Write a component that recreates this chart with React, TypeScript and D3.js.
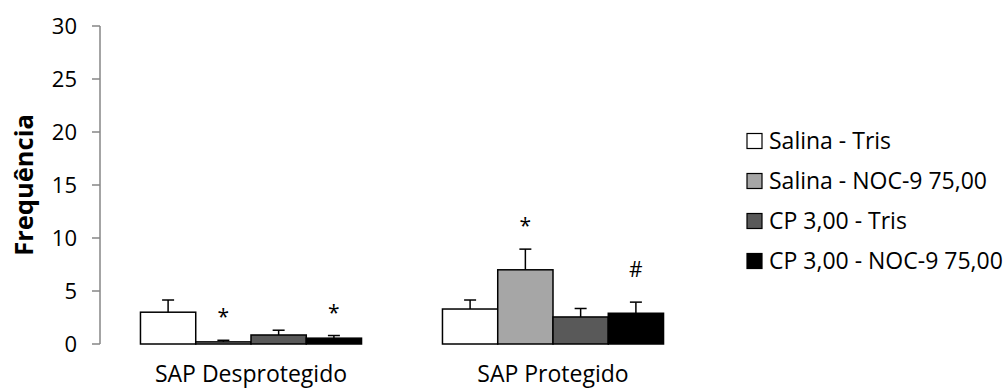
import React from "react";
import * as d3 from "d3";

const categories = ["SAP Desprotegido", "SAP Protegido"];
const seriesNames = [
  "Salina - Tris",
  "Salina - NOC-9 75,00",
  "CP 3,00 - Tris",
  "CP 3,00 - NOC-9 75,00",
];
const seriesColors = ["#ffffff", "#a6a6a6", "#595959", "#000000"];

// means per category, one array per series
const salinaTris = [3.0, 3.3];
const salinaNoc = [0.2, 7.0];
const cpTris = [0.85, 2.55];
const cpNoc = [0.55, 2.9];

// standard errors (upper bars only)
const salinaTrisErr = [1.15, 0.85];
const salinaNocErr = [0.15, 1.95];
const cpTrisErr = [0.45, 0.8];
const cpNocErr = [0.25, 1.05];

// significance marks: [category index, series index, symbol]
const marks: [number, number, string][] = [
  [0, 1, "*"],
  [0, 3, "*"],
  [1, 1, "*"],
  [1, 3, "#"],
];

const yTicks = [0, 5, 10, 15, 20, 25, 30];

const W = 1008;
const H = 389;
const FONT = "'Open Sans', 'DejaVu Sans', sans-serif";

export default function App() {
  const values = [salinaTris, salinaNoc, cpTris, cpNoc];
  const errors = [salinaTrisErr, salinaNocErr, cpTrisErr, cpNocErr];

  const x0 = d3
    .scaleBand<string>()
    .domain(categories)
    .range([100, 704])
    .paddingInner(0.268)
    .paddingOuter(0.134);
  const x1 = d3
    .scaleBand<string>()
    .domain(seriesNames)
    .range([0, x0.bandwidth()])
    .padding(0);
  const y = d3.scaleLinear().domain([0, 30]).range([344, 26]);

  const capHalf = 6;

  return (
    <svg
      width={W}
      height={H}
      style={{ position: "absolute", left: 0, top: 0, background: "#fff" }}
      fontFamily={FONT}
    >
      {/* y axis */}
      <line x1={100} x2={100} y1={y(0)} y2={y(30)} stroke="#868686" strokeWidth={1.5} />
      {yTicks.map((t) => (
        <g key={t}>
          <line x1={92} x2={100} y1={y(t)} y2={y(t)} stroke="#868686" strokeWidth={1.5} />
          <text
            x={77}
            y={y(t)}
            dy="0.36em"
            textAnchor="end"
            fontSize={22}
            fill="#000"
          >
            {t}
          </text>
        </g>
      ))}
      <text
        transform={`translate(24,${(113 + 257) / 2}) rotate(-90)`}
        textAnchor="middle"
        dy="0.36em"
        fontSize={25.5}
        fontWeight="bold"
      >
        Frequência
      </text>

      {/* bars */}
      {categories.map((c, ci) => (
        <g key={c} transform={`translate(${x0(c)},0)`}>
          {seriesNames.map((s, si) => {
            const v = values[si][ci];
            const e = errors[si][ci];
            const bx = x1(s)!;
            const cx = bx + x1.bandwidth() / 2;
            return (
              <g key={s}>
                <rect
                  x={bx}
                  y={y(v)}
                  width={x1.bandwidth()}
                  height={y(0) - y(v)}
                  fill={seriesColors[si]}
                  stroke="#000"
                  strokeWidth={1.5}
                />
                <line x1={cx} x2={cx} y1={y(v)} y2={y(v + e)} stroke="#000" strokeWidth={1.5} />
                <line
                  x1={cx - capHalf}
                  x2={cx + capHalf}
                  y1={y(v + e)}
                  y2={y(v + e)}
                  stroke="#000"
                  strokeWidth={1.5}
                />
              </g>
            );
          })}
          <text
            x={x0.bandwidth() / 2}
            y={374}
            dy="0.36em"
            textAnchor="middle"
            fontSize={23}
          >
            {c}
          </text>
        </g>
      ))}

      {/* significance marks */}
      {marks.map(([ci, si, sym], i) => {
        const cx = x0(categories[ci])! + x1(seriesNames[si])! + x1.bandwidth() / 2;
        const top = y(values[si][ci] + errors[si][ci]);
        return (
          <text
            key={i}
            x={cx}
            y={top - (sym === "#" ? 25 : 16)}
            textAnchor="middle"
            fontSize={21}
          >
            {sym}
          </text>
        );
      })}

      {/* legend */}
      {seriesNames.map((s, si) => {
        const cy = 141 + si * 40;
        return (
          <g key={s}>
            <rect
              x={747}
              y={cy - 7.5}
              width={15}
              height={15}
              fill={seriesColors[si]}
              stroke="#000"
              strokeWidth={1.2}
            />
            <text x={769} y={cy} dy="0.36em" fontSize={23}>
              {s}
            </text>
          </g>
        );
      })}
    </svg>
  );
}
